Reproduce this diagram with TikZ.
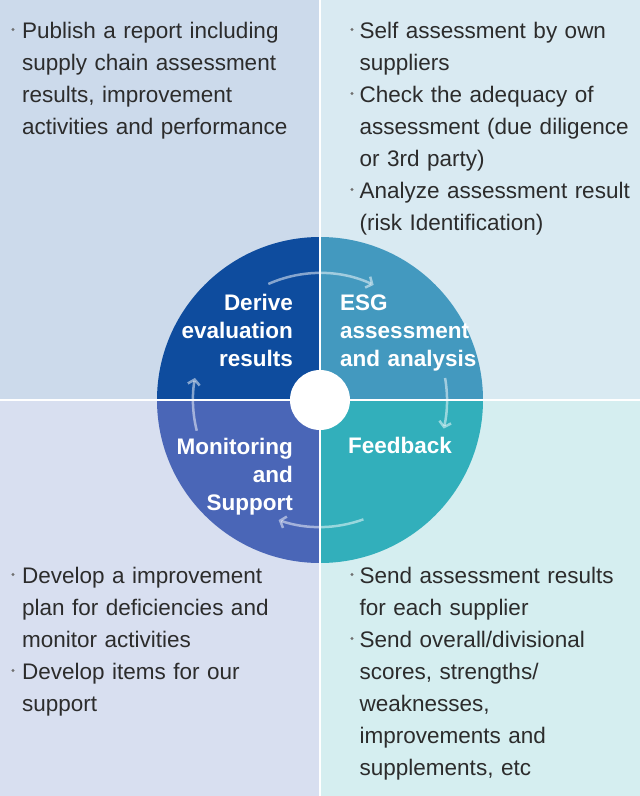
\documentclass[tikz,border=0pt]{standalone}
\usepackage{fontspec}
\setmainfont{Liberation Sans}
\usetikzlibrary{arrows.meta}
\definecolor{bgTL}{HTML}{CCDAEB}
\definecolor{bgTR}{HTML}{D9EAF2}
\definecolor{bgBL}{HTML}{D8DFF0}
\definecolor{bgBR}{HTML}{D5EEF0}
\definecolor{qTL}{HTML}{0E4C9E}
\definecolor{qTR}{HTML}{4399BF}
\definecolor{qBL}{HTML}{4A66B7}
\definecolor{qBR}{HTML}{32AFBB}
\definecolor{txt}{HTML}{2C2C2C}
\definecolor{dotc}{HTML}{707070}
\begin{document}
\begin{tikzpicture}[x=1pt,y=1pt,
  bodytext/.style={anchor=base west, inner sep=0pt, text width=300pt, align=left, text=txt, font=\fontsize{22.5}{32}\selectfont},
  lblR/.style={anchor=base east, inner sep=0pt, text width=150pt, align=right, text=white, font=\bfseries\fontsize{22.5}{28}\selectfont},
  lblL/.style={anchor=base west, inner sep=0pt, text width=150pt, align=left, text=white, font=\bfseries\fontsize{22.5}{28}\selectfont},
  flow/.style={draw=white, draw opacity=0.5, line width=2.5pt, -{Straight Barb[length=5pt,width=12pt]}},
  bdot/.style={fill=dotc}]
\useasboundingbox (0,-796) rectangle (640,0);
% backgrounds
\fill[bgTL] (0,0) rectangle (320,-400);
\fill[bgTR] (320,0) rectangle (640,-400);
\fill[bgBL] (0,-400) rectangle (320,-796);
\fill[bgBR] (320,-400) rectangle (640,-796);
\coordinate (c) at (320,-400);
% circle quadrants
\fill[qTR] (c) -- ++(0:163) arc[start angle=0, end angle=90, radius=163] -- cycle;
\fill[qTL] (c) -- ++(90:163) arc[start angle=90, end angle=180, radius=163] -- cycle;
\fill[qBL] (c) -- ++(180:163) arc[start angle=180, end angle=270, radius=163] -- cycle;
\fill[qBR] (c) -- ++(270:163) arc[start angle=270, end angle=360, radius=163] -- cycle;
% dividers
\draw[white, line width=2pt] (320,0) -- (320,-796);
\draw[white, line width=2pt] (0,-400) -- (640,-400);
\fill[white] (c) circle (30);
% cycle arrows
\draw[flow] ([shift={(114:127)}]c) arc[start angle=114, end angle=65, radius=127];
\draw[flow] ([shift={(10:127)}]c) arc[start angle=10, end angle=-13, radius=127];
\draw[flow] ([shift={(-70:127)}]c) arc[start angle=-70, end angle=-109, radius=127];
\draw[flow] ([shift={(194:127)}]c) arc[start angle=194, end angle=170, radius=127];
% circle labels
\node[lblR] (derive) at (293,-310) {Derive\\evaluation\\results};
\node[lblL] (esg) at (340,-310) {ESG\\assessment\\and analysis};
\node[lblL] (feedback) at (348,-453.5) {Feedback};
\node[lblR] (monitor) at (293,-454) {Monitoring\\and\\Support};
% top-left text
\fill[bdot] (13,-29.5) circle (1.6);
\node[bodytext] (tl1) at (22,-38.5) {Publish a report including\\supply chain assessment\\results, improvement\\activities and performance};
% top-right text
\fill[bdot] (352,-29.5) circle (1.6);
\node[bodytext] (tr1) at (359.5,-38.5) {Self assessment by own\\suppliers};
\fill[bdot] (352,-93.5) circle (1.6);
\node[bodytext] (tr2) at (359.5,-102.5) {Check the adequacy of\\assessment (due diligence\\or 3rd party)};
\fill[bdot] (352,-189.5) circle (1.6);
\node[bodytext] (tr3) at (359.5,-198.5) {Analyze assessment result\\(risk Identification)};
% bottom-left text
\fill[bdot] (13,-574.5) circle (1.6);
\node[bodytext] (bl1) at (22,-583.5) {Develop a improvement\\plan for deficiencies and\\monitor activities};
\fill[bdot] (13,-670.5) circle (1.6);
\node[bodytext] (bl2) at (22,-679.5) {Develop items for our\\support};
% bottom-right text
\fill[bdot] (352,-574.5) circle (1.6);
\node[bodytext] (br1) at (359.5,-583.5) {Send assessment results\\for each supplier};
\fill[bdot] (352,-638.5) circle (1.6);
\node[bodytext] (br2) at (359.5,-647.5) {Send overall/divisional\\scores, strengths/\\weaknesses,\\improvements and\\supplements, etc};
\end{tikzpicture}
\end{document}
